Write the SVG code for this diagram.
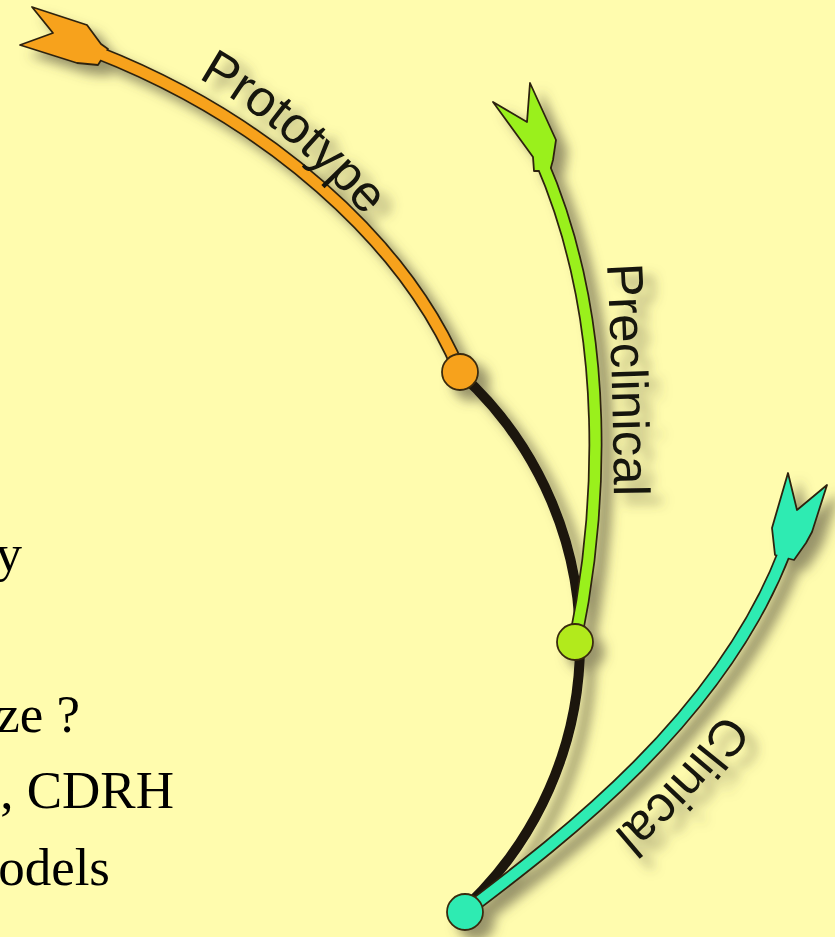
<svg xmlns="http://www.w3.org/2000/svg" width="835" height="937" viewBox="0 0 835 937">
  <defs>
    <!-- soft drop shadow shared by the whole branch drawing -->
    <filter id="shadow" x="-20%" y="-20%" width="140%" height="140%">
      <feGaussianBlur in="SourceAlpha" stdDeviation="6" result="blur"/>
      <feOffset in="blur" dx="11" dy="10" result="off"/>
      <feFlood flood-color="#55503d" flood-opacity="0.6"/>
      <feComposite in2="off" operator="in" result="shade"/>
      <feMerge>
        <feMergeNode in="shade"/>
        <feMergeNode in="SourceGraphic"/>
      </feMerge>
    </filter>
    <!-- shaft centre lines -->
    <path id="protoShaft" d="M460,372 C405,240 265,118 96,52"/>
    <path id="preShaft" d="M575,642 C600,520 615,330 541,160"/>
    <path id="clinShaft" d="M465,912 C560,840 720,720 785,551"/>
    <!-- label baselines -->
    <path id="protoLine" d="M198,78 Q287,128 364,215 L400,270"/>
    <path id="preLine" d="M607,264 Q613,380 614,500 L614,560"/>
    <path id="clinLine" d="M724,712 Q676,780 614,832 L570,865"/>
  </defs>
  <style>
    .bg{fill:#FFFCAE}
    .body{font-family:"Liberation Serif","Times New Roman",serif;font-size:53px;fill:#000;text-anchor:end}
    .label{font-family:"Liberation Sans",Arial,sans-serif;font-size:51px;fill:#15130e}
    .edge{fill:none;stroke:#2e2410;stroke-width:14;stroke-linecap:butt}
    .trunk{fill:none;stroke:#1c150d;stroke-width:10;stroke-linecap:round}
    .head{stroke:#2e2410;stroke-width:1.8;stroke-linejoin:round}
    .dot{stroke:#3a2c10;stroke-width:1.8}
  </style>

  <rect class="bg" x="0" y="0" width="835" height="937"/>

  <!-- body text, cut off at the left edge -->
  <g id="body-text">
    <text class="body" x="22" y="571">y</text>
    <text class="body" x="80" y="732">ze ?</text>
    <text class="body" x="174" y="808">, CDRH</text>
    <text class="body" x="110" y="885">odels</text>
  </g>

  <g filter="url(#shadow)">
    <!-- main trunk joining the branch points -->
    <g id="connectors">
      <path class="trunk" d="M460,373 A363,363 0 0 1 468,905"/>
    </g>

    <!-- Prototype branch -->
    <g id="prototype">
      <use href="#protoShaft" class="edge"/>
      <polygon class="head" fill="#F7A21B" points="32,7 87,25 101,44 108,49 98,65 77,63 20,45 53,33"/>
      <use href="#protoShaft" style="fill:none;stroke:#F7A21B;stroke-width:10.5"/>
      <text class="label"><textPath href="#protoLine">Prototype</textPath></text>
    </g>

    <!-- Preclinical branch -->
    <g id="preclinical">
      <use href="#preShaft" class="edge"/>
      <polygon class="head" fill="#9AF01F" points="530,83 556,140 553,160 550,171 534,171 533,157 493,102 527,122"/>
      <use href="#preShaft" style="fill:none;stroke:#9AF01F;stroke-width:10.5"/>
      <text class="label"><textPath href="#preLine">Preclinical</textPath></text>
    </g>

    <!-- Clinical branch -->
    <g id="clinical">
      <use href="#clinShaft" class="edge"/>
      <polygon class="head" fill="#2FEBB2" points="788,473 797,510 827,485 812,532 806,543 794,560 775,555 772,528"/>
      <use href="#clinShaft" style="fill:none;stroke:#2FEBB2;stroke-width:10.5"/>
      <text class="label"><textPath href="#clinLine">Clinical</textPath></text>
    </g>

    <!-- branch points -->
    <g id="node-prototype"><circle class="dot" cx="460" cy="372" r="18" fill="#F7A21B"/></g>
    <g id="node-preclinical"><circle class="dot" cx="575" cy="642" r="18" fill="#B2EA1C"/></g>
    <g id="node-clinical"><circle class="dot" cx="465" cy="912" r="18" fill="#2FEBB2"/></g>
  </g>
</svg>
